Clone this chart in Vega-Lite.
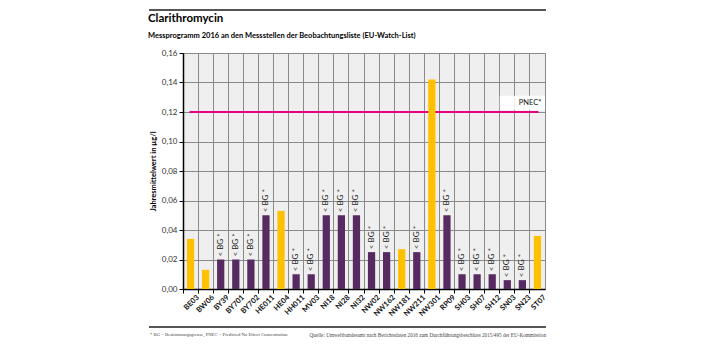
{
  "$schema": "https://vega.github.io/schema/vega-lite/v6.json",
  "width": 362,
  "height": 236,
  "autosize": {"type": "none"},
  "padding": {"left": 183, "top": 53, "right": 162, "bottom": 65},
  "background": "white",
  "config": {
    "font": "Lato",
    "view": {"fill": "#efefef", "stroke": "#8a8a8a", "strokeWidth": 1}
  },
  "title": {
    "text": "Clarithromycin",
    "subtitle": "Messprogramm 2016 an den Messstellen der Beobachtungsliste (EU-Watch-List)",
    "anchor": "start",
    "frame": "group",
    "dx": -35,
    "dy": 40,
    "offset": 10,
    "font": "Lato",
    "fontSize": 11.5,
    "fontWeight": "bold",
    "color": "#000000",
    "subtitleFont": "Lato",
    "subtitleFontSize": 7.5,
    "subtitleFontWeight": "bold",
    "subtitleColor": "#000000",
    "subtitlePadding": 7
  },
  "data": {
    "values": [
      {"site": "BE03", "value": 0.034, "type": "gemessen", "label": ""},
      {"site": "BW06", "value": 0.013, "type": "gemessen", "label": ""},
      {"site": "BY39", "value": 0.02, "type": "BG", "label": "< BG *"},
      {"site": "BY701", "value": 0.02, "type": "BG", "label": "< BG *"},
      {"site": "BY702", "value": 0.02, "type": "BG", "label": "< BG *"},
      {"site": "HE011", "value": 0.05, "type": "BG", "label": "< BG *"},
      {"site": "HE04", "value": 0.053, "type": "gemessen", "label": ""},
      {"site": "HH011", "value": 0.01, "type": "BG", "label": "< BG *"},
      {"site": "MV03", "value": 0.01, "type": "BG", "label": "< BG *"},
      {"site": "NI18", "value": 0.05, "type": "BG", "label": "< BG *"},
      {"site": "NI28", "value": 0.05, "type": "BG", "label": "< BG *"},
      {"site": "NI32", "value": 0.05, "type": "BG", "label": "< BG *"},
      {"site": "NW02", "value": 0.025, "type": "BG", "label": "< BG *"},
      {"site": "NW162", "value": 0.025, "type": "BG", "label": "< BG *"},
      {"site": "NW181", "value": 0.027, "type": "gemessen", "label": ""},
      {"site": "NW211", "value": 0.025, "type": "BG", "label": "< BG *"},
      {"site": "NW301", "value": 0.142, "type": "gemessen", "label": ""},
      {"site": "RP09", "value": 0.05, "type": "BG", "label": "< BG *"},
      {"site": "SH03", "value": 0.01, "type": "BG", "label": "< BG *"},
      {"site": "SH07", "value": 0.01, "type": "BG", "label": "< BG *"},
      {"site": "SH12", "value": 0.01, "type": "BG", "label": "< BG *"},
      {"site": "SN03", "value": 0.006, "type": "BG", "label": "< BG *"},
      {"site": "SN23", "value": 0.006, "type": "BG", "label": "< BG *"},
      {"site": "ST07", "value": 0.036, "type": "gemessen", "label": ""}
    ]
  },
  "encoding": {
    "x": {
      "field": "site",
      "type": "nominal",
      "sort": null,
      "scale": {
        "domain": ["BE03", "BW06", "BY39", "BY701", "BY702", "HE011", "HE04", "HH011", "MV03", "NI18", "NI28", "NI32", "NW02", "NW162", "NW181", "NW211", "NW301", "RP09", "SH03", "SH07", "SH12", "SN03", "SN23", "ST07"],
        "paddingInner": 0,
        "paddingOuter": 0
      },
      "axis": {
        "title": null,
        "bandPosition": 0,
        "labelOffset": 7.5,
        "labelAngle": -45,
        "labelAlign": "right",
        "labelBaseline": "middle",
        "labelFont": "Lato",
        "labelFontSize": 7.5,
        "labelFontWeight": "bold",
        "labelColor": "#111111",
        "labelPadding": 3,
        "grid": true,
        "gridColor": "#8a8a8a",
        "gridWidth": 1,
        "ticks": true,
        "tickColor": "#000000",
        "tickSize": 4,
        "domainColor": "#000000",
        "domainWidth": 1.5
      }
    },
    "y": {
      "field": "value",
      "type": "quantitative",
      "scale": {"domain": [0, 0.16], "nice": false},
      "axis": {
        "title": "Jahresmittelwert in µg/l",
        "titleFont": "Lato",
        "titleFontSize": 7.5,
        "titleFontWeight": "bold",
        "titleColor": "#000000",
        "titlePadding": 4,
        "values": [0, 0.02, 0.04, 0.06, 0.08, 0.1, 0.12, 0.14, 0.16],
        "labelExpr": "replace(format(datum.value, '.2f'), '.', ',')",
        "labelFont": "Lato",
        "labelFontSize": 8,
        "labelColor": "#333333",
        "gridColor": "#8a8a8a",
        "gridWidth": 1,
        "tickColor": "#000000",
        "tickSize": 4,
        "domainColor": "#000000",
        "domainWidth": 1.5
      }
    }
  },
  "layer": [
    {
      "data": {"values": [{"site": "BE03", "value": 0.12}, {"site": "ST07", "value": 0.12}]},
      "mark": {"type": "line", "color": "#E5007E", "strokeWidth": 2, "strokeCap": "square"},
      "encoding": {}
    },
    {
      "mark": {"type": "bar", "width": {"band": 0.48}},
      "encoding": {
        "color": {
          "field": "type",
          "type": "nominal",
          "scale": {"domain": ["gemessen", "BG"], "range": ["#FFC000", "#582a62"]},
          "legend": null
        }
      }
    },
    {
      "transform": [{"filter": "datum.type == 'BG'"}],
      "mark": {"type": "text", "angle": 270, "align": "left", "baseline": "middle", "dx": 3, "fontSize": 8, "font": "Lato", "color": "#222222"},
      "encoding": {"text": {"field": "label"}}
    },
    {
      "data": {"values": [{"site": "SN03", "lo": 0.1212, "hi": 0.131}, {"site": "SN23", "lo": 0.1212, "hi": 0.131}, {"site": "ST07", "lo": 0.1212, "hi": 0.131}]},
      "mark": {"type": "bar", "fill": "white", "width": {"band": 1}},
      "encoding": {
        "y": {"field": "lo", "type": "quantitative"},
        "y2": {"field": "hi"}
      }
    },
    {
      "data": {"values": [{"site": "ST07", "value": 0.1262, "t": "PNEC*"}]},
      "mark": {"type": "text", "align": "right", "baseline": "middle", "fontSize": 7.5, "font": "Lato", "color": "#111111", "dx": 4},
      "encoding": {"text": {"field": "t"}}
    },
    {
      "data": {"values": [{}]},
      "mark": {"type": "rule", "color": "#555555", "strokeWidth": 2},
      "encoding": {
        "x": {"value": -34},
        "x2": {"value": 363},
        "y": {"value": -43}
      }
    },
    {
      "data": {"values": [{}]},
      "mark": {"type": "rule", "color": "#555555", "strokeWidth": 2},
      "encoding": {
        "x": {"value": -34},
        "x2": {"value": 363},
        "y": {"value": 274}
      }
    },
    {
      "data": {"values": [{"t": "* BG = Bestimmungsgrenze, PNEC = Predicted No Effect Concentration"}]},
      "mark": {"type": "text", "align": "left", "baseline": "middle", "fontSize": 4.7, "font": "Liberation Serif", "color": "#444444"},
      "encoding": {"x": {"value": -33}, "y": {"value": 282}, "text": {"field": "t"}}
    },
    {
      "data": {"values": [{"t": "Quelle: Umweltbundesamt nach Berichtsdaten 2016 zum Durchführungsbeschluss 2015/495 der EU-Kommission"}]},
      "mark": {"type": "text", "align": "right", "baseline": "middle", "fontSize": 5.2, "font": "Liberation Serif", "color": "#444444"},
      "encoding": {"x": {"value": 363}, "y": {"value": 282}, "text": {"field": "t"}}
    }
  ]
}
